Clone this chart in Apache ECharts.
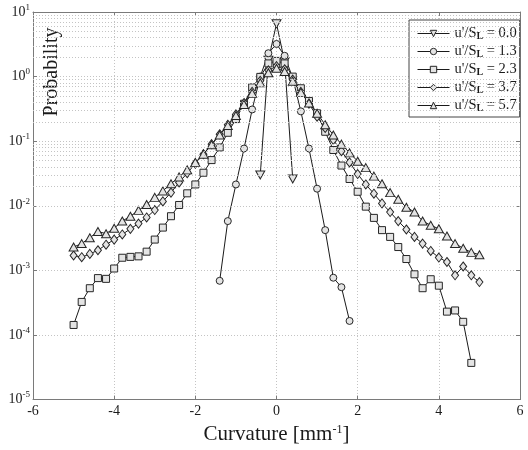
<!DOCTYPE html>
<html>
<head>
<meta charset="utf-8">
<script src="https://cdn.jsdelivr.net/npm/echarts@6/dist/echarts.min.js"></script>
<style>
html, body { margin: 0; padding: 0; background: #fff; }
#main { width: 528px; height: 450px; }
</style>
</head>
<body>
<div id="main"></div>
<script>
// u'/S_L values shown in the legend
var speeds = ['0.0', '1.3', '2.3', '3.7', '5.7'];

// u'/S_L = 0.0  (down triangles)
var xS0 = [-0.4, -0.2, 0.0, 0.2, 0.4];
var pS0 = [0.03, 1.8, 6.6, 1.7, 0.026];

// u'/S_L = 1.3  (circles)
var xS1 = [-1.4, -1.2, -1.0, -0.8, -0.6, -0.4, -0.2, 0.0, 0.2, 0.4, 0.6, 0.8, 1.0, 1.2, 1.4, 1.6, 1.8];
var pS1 = [6.9e-4, 5.8e-3, 0.0214, 0.077, 0.31, 1.0, 2.3, 3.2, 2.1, 0.95, 0.29, 0.077, 0.0184, 0.0042, 7.7e-4, 5.5e-4, 1.65e-4];

// u'/S_L = 2.3  (squares)
var xS2 = [-5.0, -4.8, -4.6, -4.4, -4.2, -4.0, -3.8, -3.6, -3.4, -3.2, -3.0, -2.8, -2.6, -2.4, -2.2, -2.0, -1.8, -1.6, -1.4, -1.2,
           -1.0, -0.8, -0.6, -0.4, -0.2, 0.0, 0.2, 0.4, 0.6, 0.8, 1.0, 1.2, 1.4, 1.6, 1.8, 2.0, 2.2, 2.4, 2.6, 2.8,
           3.0, 3.2, 3.4, 3.6, 3.8, 4.0, 4.2, 4.4, 4.6, 4.8];
var pS2 = [1.43e-4, 3.25e-4, 5.3e-4, 7.6e-4, 7.4e-4, 1.07e-3, 1.57e-3, 1.62e-3, 1.65e-3, 1.95e-3, 3.0e-3, 4.6e-3, 6.9e-3, 0.0103, 0.0156, 0.0214, 0.0325, 0.051, 0.08, 0.135,
           0.22, 0.38, 0.68, 0.99, 1.6, 1.75, 1.6, 1.0, 0.66, 0.42, 0.27, 0.14, 0.073, 0.042, 0.026, 0.0165, 0.0097, 0.0065, 0.0042, 0.0033,
           0.0023, 0.0015, 8.7e-4, 5.3e-4, 7.3e-4, 5.8e-4, 2.3e-4, 2.4e-4, 1.6e-4, 3.7e-5];

// u'/S_L = 3.7  (diamonds)
var xS3 = [-5.0, -4.8, -4.6, -4.4, -4.2, -4.0, -3.8, -3.6, -3.4, -3.2, -3.0, -2.8, -2.6, -2.4, -2.2, -2.0, -1.8, -1.6, -1.4, -1.2,
           -1.0, -0.8, -0.6, -0.4, -0.2, 0.0, 0.2, 0.4, 0.6, 0.8, 1.0, 1.2, 1.4, 1.6, 1.8, 2.0, 2.2, 2.4, 2.6, 2.8,
           3.0, 3.2, 3.4, 3.6, 3.8, 4.0, 4.2, 4.4, 4.6, 4.8, 5.0];
var pS3 = [1.7e-3, 1.6e-3, 1.8e-3, 2.05e-3, 2.5e-3, 3.0e-3, 3.6e-3, 4.4e-3, 5.3e-3, 6.6e-3, 8.6e-3, 0.0117, 0.016, 0.023, 0.032, 0.045, 0.063, 0.09, 0.128, 0.18,
           0.26, 0.39, 0.58, 0.86, 1.25, 1.45, 1.3, 0.9, 0.58, 0.38, 0.24, 0.16, 0.105, 0.07, 0.047, 0.031, 0.0214, 0.0154, 0.0109, 0.008,
           0.0058, 0.0043, 0.0033, 0.0026, 0.002, 0.00158, 0.00135, 0.00084, 0.00115, 0.00084, 0.00066];

// u'/S_L = 5.7  (up triangles)
var xS4 = xS3.slice();
var pS4 = [2.3e-3, 2.6e-3, 3.2e-3, 4.0e-3, 3.7e-3, 4.5e-3, 5.8e-3, 6.9e-3, 8.5e-3, 0.0105, 0.0135, 0.017, 0.022, 0.028, 0.036, 0.047, 0.063, 0.088, 0.125, 0.175,
           0.25, 0.37, 0.55, 0.8, 1.15, 1.35, 1.2, 0.85, 0.57, 0.39, 0.27, 0.18, 0.125, 0.09, 0.066, 0.049, 0.039, 0.0288, 0.022, 0.016,
           0.0126, 0.0095, 0.008, 0.0058, 0.005, 0.0044, 0.0034, 0.0026, 0.0022, 0.0019, 0.00175];

var serif = 'Liberation Serif';
var ink = '#1a1a1a';
var frame = '#7a7a7a';

function pairs(xs, ys) {
    return xs.map(function (x, i) { return [x, ys[i]]; });
}

// minor decade gridlines (2..9 x 10^n)
var minorGrid = [];
for (var d = -5; d <= 0; d++) {
    for (var m = 2; m <= 9; m++) {
        minorGrid.push({ yAxis: Number((m * Math.pow(10, d)).toPrecision(3)) });
    }
}

function mk(idx, xs, ys, symbol, size) {
    return {
        name: "u'/SL = " + speeds[idx],
        type: 'line',
        data: pairs(xs, ys),
        symbol: symbol,
        symbolSize: size,
        showAllSymbol: true,
        lineStyle: { color: ink, width: 1 },
        itemStyle: { color: '#e4e4e4', borderColor: '#262626', borderWidth: 1 },
        emphasis: { disabled: true },
        animation: false
    };
}

var series = [
    mk(0, xS0, pS0, 'path://M0,0 L10,0 L5,9 Z', [9, 8]),
    mk(1, xS1, pS1, 'circle', 7),
    mk(2, xS2, pS2, 'rect', 7),
    mk(3, xS3, pS3, 'diamond', [7, 9]),
    mk(4, xS4, pS4, 'triangle', [9, 8])
];
series[0].markLine = {
    silent: true,
    symbol: 'none',
    label: { show: false },
    lineStyle: { color: '#c4c4c4', type: [1, 2], width: 1 },
    data: minorGrid,
    animation: false
};

var myChart = echarts.init(document.getElementById('main'));
var option = {
    backgroundColor: '#fff',
    animation: false,
    grid: { left: 33, right: 8, top: 12, bottom: 49 },
    legend: {
        orient: 'vertical',
        left: 409,
        top: 20,
        padding: [6, 3, 4, 8],
        itemGap: 3,
        itemWidth: 32,
        itemHeight: 8,
        backgroundColor: '#fff',
        borderColor: '#444',
        borderWidth: 1,
        lineStyle: { color: ink, width: 1, type: 'solid' },
        itemStyle: { color: '#e4e4e4', borderColor: '#262626', borderWidth: 1 },
        data: series.map(function (s) { return s.name; }),
        formatter: function (name) {
            return "{a|u'/S}{s|L}{a| = " + name.split('= ')[1] + '}';
        },
        textStyle: {
            color: ink,
            rich: {
                a: { fontFamily: serif, fontSize: 14.5, color: ink, lineHeight: 15 },
                s: { fontFamily: serif, fontSize: 10, fontWeight: 'bold', color: ink, padding: [5, 0, 0, 0], lineHeight: 10 }
            }
        }
    },
    xAxis: [{
        type: 'value',
        min: -6, max: 6, interval: 2,
        name: '{a|Curvature [mm}{s|-1}{a|]}',
        nameLocation: 'middle',
        nameGap: 20,
        nameTextStyle: {
            rich: {
                a: { fontFamily: serif, fontSize: 21, color: ink },
                s: { fontFamily: serif, fontSize: 12, color: ink, padding: [0, 0, 10, 0] }
            }
        },
        axisLine: { show: true, onZero: false, lineStyle: { color: frame } },
        axisTick: { show: true, inside: true, length: 4, lineStyle: { color: frame } },
        axisLabel: { fontFamily: serif, fontSize: 14, color: ink, margin: 5 },
        splitLine: { show: true, lineStyle: { color: '#c4c4c4', type: [1, 2] } }
    }, {
        type: 'value',
        position: 'top',
        min: -6, max: 6, interval: 2,
        axisLine: { show: true, onZero: false, lineStyle: { color: frame } },
        axisTick: { show: true, inside: true, length: 4, lineStyle: { color: frame } },
        axisLabel: { show: false },
        splitLine: { show: false }
    }],
    yAxis: [{
        type: 'log',
        logBase: 10,
        min: 1e-5, max: 10,
        axisLine: { show: true, onZero: false, lineStyle: { color: frame } },
        axisTick: { show: true, inside: true, length: 4, lineStyle: { color: frame } },
        axisLabel: {
            margin: 3,
            formatter: function (v) {
                return '{b|10}{e|' + Math.round(Math.log10(v)) + '}';
            },
            rich: {
                b: { fontFamily: serif, fontSize: 14, color: ink },
                e: { fontFamily: serif, fontSize: 9, color: ink, padding: [0, 0, 9, 0] }
            }
        },
        splitLine: { show: true, lineStyle: { color: '#c4c4c4', type: [1, 2] } }
    }, {
        type: 'log',
        logBase: 10,
        position: 'right',
        min: 1e-5, max: 10,
        axisLine: { show: true, onZero: false, lineStyle: { color: frame } },
        axisTick: { show: true, inside: true, length: 4, lineStyle: { color: frame } },
        axisLabel: { show: false },
        splitLine: { show: false }
    }],
    graphic: [{
        type: 'text',
        x: 52,
        y: 72,
        rotation: Math.PI / 2,
        style: {
            text: 'Probability',
            font: '20px "Liberation Serif"',
            fill: ink,
            align: 'center',
            verticalAlign: 'middle'
        }
    }],
    series: series
};

myChart.setOption(option);
window.addEventListener('resize', function () {
    myChart.resize();
});
</script>
</body>
</html>
